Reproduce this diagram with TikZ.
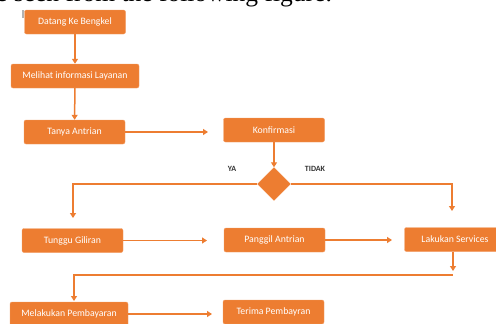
\documentclass[tikz,border=0pt]{standalone}
\usepackage{fontspec}
\setmainfont{Liberation Serif}
\newfontfamily\boxfont{Carlito}
\usepackage{xcolor}
\usepackage{tikz}
\usetikzlibrary{arrows.meta}
\usetikzlibrary{shapes.geometric}
\definecolor{flow}{HTML}{ED7D31}

\begin{document}
\begin{tikzpicture}[x=1pt, y=-1pt,
        stepbox/.style={fill=flow, draw=flow!75!white, thin, rounded corners=2pt, minimum height=24pt, minimum width=101pt, inner sep=0pt, text=white, font=\boxfont\fontsize{9.8}{11}\selectfont},
        decision/.style={diamond, fill=flow, draw=flow, minimum width=33pt, minimum height=33pt, inner sep=0pt},
        flowline/.style={draw=flow, line width=1.5pt},
        flowarrow/.style={flowline, -{Triangle[length=5pt, width=6pt]}},
        answer/.style={font=\boxfont\bfseries\fontsize{8}{9}\selectfont, text=black!80}]
        \useasboundingbox (0,0) rectangle (496,324);
        \clip (0,0) rectangle (496,324);

        % caption cut off at the top
        \node[anchor=base west, inner sep=0pt, font=\fontsize{25.5}{25.5}\selectfont] (caption) at (-4,1.5) {e seen from the following figure.};
        \draw[gray!60, line width=1.2pt] (23,10) -- (23,18);

        % boxes
        \node[stepbox] (datang) at (75,22) {Datang Ke Bengkel};
        \node[stepbox, minimum width=128pt] (melihat) at (75,76) {Melihat informasi Layanan};
        \node[stepbox] (tanya) at (74.5,132) {Tanya Antrian};
        \node[stepbox] (konfirmasi) at (274,130) {Konfirmasi};
        \node[decision] (cek) at (274,184) {};
        \node[stepbox] (tunggu) at (72.5,240.5) {Tunggu Giliran};
        \node[stepbox] (panggil) at (274.5,240) {Panggil Antrian};
        \node[stepbox] (lakukan) at (455,239.5) {Lakukan Services};
        \node[stepbox, minimum width=118pt] (melakukan) at (69,314) {Melakukan Pembayaran};
        \node[stepbox] (terima) at (273.5,312) {Terima Pembayran};

        % answers
        \node[answer] (ya) at (232,169) {YA};
        \node[answer] (tidak) at (315,169) {TIDAK};

        % free ends
        \coordinate (tanyaend) at (208,132);
        \coordinate (yaend) at (73,218);
        \coordinate (tidakend) at (452,211);
        \coordinate (tungguend) at (207,240.5);
        \coordinate (panggilend) at (392,240);
        \coordinate (lakukanend) at (453,271);
        \coordinate (bayarstart) at (453,275);
        \coordinate (bayarend) at (74,301);
        \coordinate (melakukanend) at (212,314);

        % connectors
        \draw[flowarrow] (datang) -- (melihat);
        \draw[flowarrow] (melihat) -- (tanya);
        \draw[flowarrow] (tanya) -- (tanyaend);
        \draw[flowarrow] (konfirmasi) -- (cek);
        \draw[flowarrow] (cek.west) -| (yaend);
        \draw[flowarrow] (cek.east) -| (tidakend);
        \draw[flowarrow] (tunggu) -- (tungguend);
        \draw[flowarrow] (panggil) -- (panggilend);
        \draw[flowarrow] (lakukan.south -| lakukanend) -- (lakukanend);
        \draw[flowarrow] (bayarstart) -| (bayarend);
        \draw[flowarrow] (melakukan) -- (melakukanend);
    \end{tikzpicture}
\end{document}
